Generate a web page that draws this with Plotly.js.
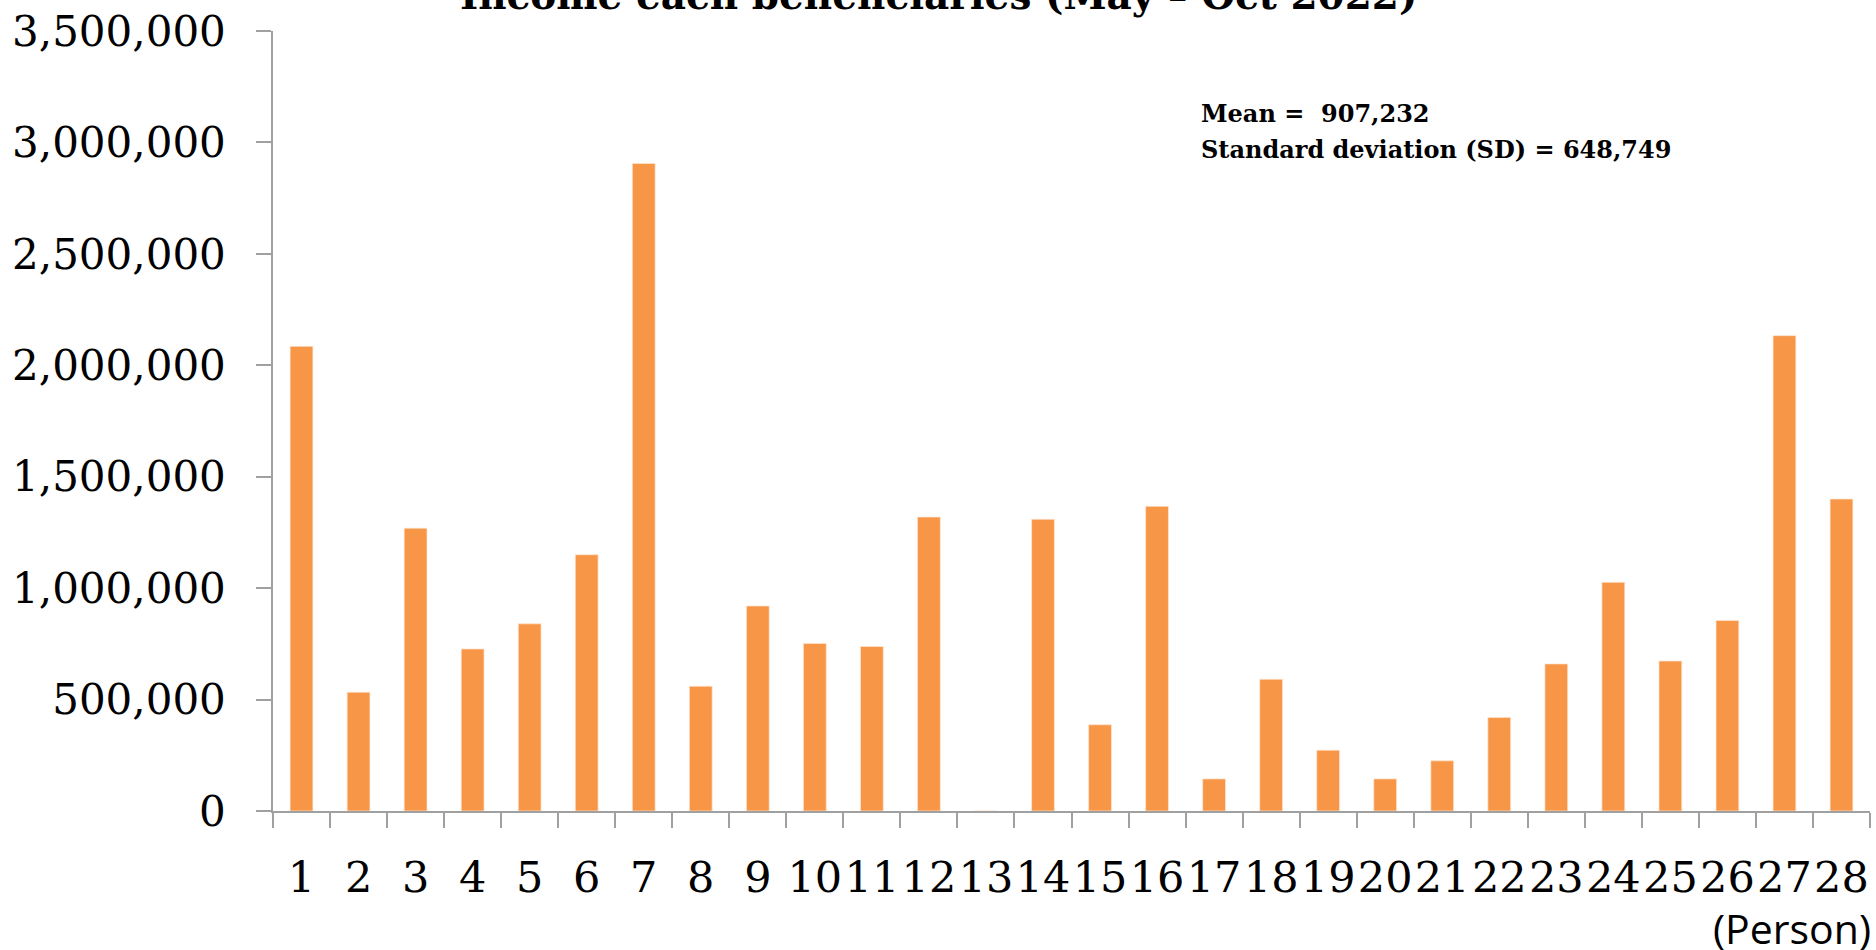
<!DOCTYPE html>
<html>
<head>
<meta charset="utf-8">
<script src="https://cdn.plot.ly/plotly-3.0.1.min.js"></script>
<style>
  html, body { margin: 0; padding: 0; background: #ffffff; }
  #chart { width: 1876px; height: 950px; }
</style>
</head>
<body>
<div id="chart"></div>
<script>
// Person numbers (categories)
const persons = ['1','2','3','4','5','6','7','8','9','10','11','12','13','14',
                 '15','16','17','18','19','20','21','22','23','24','25','26','27','28'];
// Income of each beneficiary, May - Oct 2022
const income = [2085000, 533000, 1269000, 727000, 840000, 1150000, 2906000, 560000,
                920000, 752000, 738000, 1319000, 0, 1309000, 387000, 1367000,
                144000, 591000, 273000, 144000, 225000, 420000, 660000, 1026000,
                673000, 855000, 2133000, 1400000];
// Text
const titleText = 'Income each beneficiaries (May \u2013 Oct 2022)';
const meanText = 'Mean =\u00a0 907,232';
const sdText = 'Standard deviation (SD) = 648,749';
const xUnit = '(Person)';
// Y axis ticks
const yTickVals = [0, 500000, 1000000, 1500000, 2000000, 2500000, 3000000, 3500000];

const serif = 'DejaVu Serif, Liberation Serif, serif';
const axisGrey = '#a0a0a0';

const trace = {
  type: 'bar',
  x: persons,
  y: income,
  marker: { color: '#F79646', line: { color: 'rgba(255,230,210,0.9)', width: 0.8 } },
  hoverinfo: 'x+y'
};

const layout = {
  width: 1876,
  height: 950,
  paper_bgcolor: '#ffffff',
  plot_bgcolor: '#ffffff',
  margin: { l: 273, r: 6, t: 31, b: 139, pad: 0 },
  showlegend: false,
  bargap: 0.6,
  xaxis: {
    type: 'category',
    tickson: 'boundaries',
    ticks: 'outside',
    ticklen: 15,
    tickwidth: 1.5,
    tickcolor: axisGrey,
    showline: true,
    linecolor: axisGrey,
    linewidth: 1.5,
    showgrid: false,
    zeroline: false,
    tickangle: 0,
    ticklabelstandoff: 28,
    tickfont: { family: serif, size: 43, color: '#000000' }
  },
  yaxis: {
    range: [0, 3500000],
    tickvals: yTickVals,
    tickformat: ',d',
    ticks: 'outside',
    ticklen: 15,
    tickwidth: 1.5,
    tickcolor: axisGrey,
    showline: true,
    linecolor: axisGrey,
    linewidth: 1.5,
    showgrid: false,
    zeroline: false,
    ticklabelstandoff: 22,
    tickfont: { family: serif, size: 42, color: '#000000' }
  },
  annotations: [
    {
      // chart title, partly cut off at the top edge as in the original
      text: '<b>' + titleText + '</b>',
      xref: 'paper', yref: 'paper',
      x: (938 - 273) / 1597, y: 1, xanchor: 'center', yanchor: 'middle',
      yshift: 36,
      showarrow: false,
      font: { family: serif, size: 39, color: '#000000' }
    },
    {
      text: '<b>' + meanText + '</b>',
      xref: 'paper', yref: 'paper',
      x: 0.580, y: 0.894, xanchor: 'left', yanchor: 'middle',
      showarrow: false, align: 'left',
      font: { family: serif, size: 24, color: '#000000' }
    },
    {
      text: '<b>' + sdText + '</b>',
      xref: 'paper', yref: 'paper',
      x: 0.580, y: 0.848, xanchor: 'left', yanchor: 'middle',
      showarrow: false, align: 'left',
      font: { family: serif, size: 24, color: '#000000' }
    },
    {
      text: xUnit,
      xref: 'paper', yref: 'paper',
      x: 1, y: -0.1505, xanchor: 'right', yanchor: 'middle', xshift: 3,
      showarrow: false,
      font: { family: 'Open Sans, Noto Sans, sans-serif', size: 41, color: '#000000' }
    }
  ]
};

Plotly.newPlot('chart', [trace], layout, { displayModeBar: false, responsive: false });
</script>
</body>
</html>
